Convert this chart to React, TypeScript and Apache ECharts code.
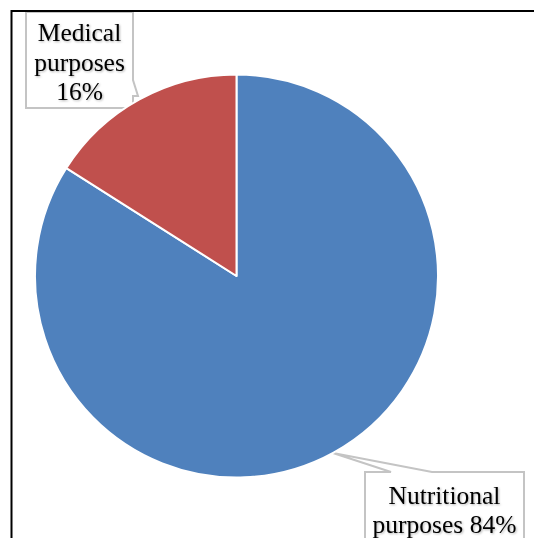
import React, { useEffect, useRef } from "react";
import * as echarts from "echarts";

// Share of use by purpose
const categories = ["Nutritional purposes", "Medical purposes"];
const values = [84, 16];
const colors = ["#4F81BD", "#C0504D"];

const FONT = "'Liberation Serif', 'Times New Roman', serif";

function labelText(name: string, pct: number, idx: number): string {
  const [first, ...rest] = name.split(" ");
  const tail = rest.join(" ");
  // the large slice keeps its percentage on the second line
  return idx === 0 ? `${first}\n${tail} ${pct}%` : `${first}\n${tail}\n${pct}%`;
}

export default function App() {
  const ref = useRef<HTMLDivElement>(null);

  useEffect(() => {
    if (!ref.current) return;
    document.documentElement.style.overflow = "hidden";
    document.body.style.margin = "0";
    const chart = echarts.init(ref.current, undefined, { renderer: "svg" });
    const callout = { fill: "#ffffff", stroke: "#c4c4c4", lineWidth: 2 };
    chart.setOption({
      animation: false,
      backgroundColor: "#ffffff",
      graphic: [
        {
          type: "polygon",
          z: 0,
          shape: {
            points: [
              [26, 12], [133, 12], [133, 80], [138, 96], [133, 96], [133, 108], [26, 108],
            ],
          },
          style: callout,
        },
        {
          type: "polygon",
          z: 0,
          shape: {
            points: [
              [365, 472], [391, 472], [333, 453], [432, 472], [524, 472], [524, 548], [365, 548],
            ],
          },
          style: callout,
        },
        {
          type: "rect",
          z: 50,
          shape: { x: 11.5, y: 11, width: 600, height: 600 },
          style: { stroke: "#000000", lineWidth: 2, fill: null },
        },
      ],
      series: [
        {
          type: "pie",
          center: [236.5, 276],
          radius: [0, 201.5],
          startAngle: 90,
          clockwise: true,
          avoidLabelOverlap: false,
          itemStyle: { borderColor: "#ffffff", borderWidth: 2 },
          data: categories.map((name, i) => ({
            name,
            value: values[i],
            itemStyle: { color: colors[i] },
          })),
          label: {
            show: true,
            position: "outside",
            formatter: (p: any) => labelText(p.name, Math.round(p.percent), p.dataIndex),
            fontFamily: FONT,
            fontSize: 25.5,
            lineHeight: 29.5,
            color: "#000000",
            align: "center",
            textShadowColor: "rgba(0,0,0,0.3)",
            textShadowBlur: 2,
            textShadowOffsetX: 1,
            textShadowOffsetY: 1,
          },
          labelLine: { show: false },
          labelLayout: (params: any) =>
            params.dataIndex === 0
              ? { x: 444.5, y: 510, align: "center", verticalAlign: "middle" }
              : { x: 79.5, y: 62, align: "center", verticalAlign: "middle" },
        },
      ],
    });
    return () => chart.dispose();
  }, []);

  return (
    <div
      ref={ref}
      style={{ position: "fixed", left: 0, top: 0, width: 534, height: 538 }}
    />
  );
}
